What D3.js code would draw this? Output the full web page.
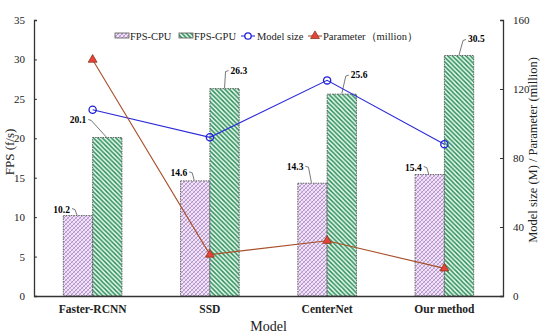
<!DOCTYPE html>
<html>
<head>
<meta charset="utf-8">
<script src="https://cdn.jsdelivr.net/npm/d3@7"></script>
<style>
  body { margin: 0; background: #fff; }
  svg, svg text { font-family: "Liberation Serif", "Times New Roman", serif; }
</style>
</head>
<body>
<div id="vis"></div>
<script>
// data
const METHODS = ['Faster-RCNN', 'SSD', 'CenterNet', 'Our method'];
const FPS_CPU = [10.2, 14.6, 14.3, 15.4];
const FPS_GPU = [20.1, 26.3, 25.6, 30.5];
const MODEL_SIZE = [108, 92, 125, 88];
const PARAMS = [137, 24, 32, 16];
const LEFT_TICKS = [0, 5, 10, 15, 20, 25, 30, 35];
const RIGHT_TICKS = [0, 40, 80, 120, 160];

const FRAME_WIDTH = 550;
const FRAME_HEIGHT = 336;
const MARGINS = {left: 34, right: 47, top: 20, bottom: 40};
const VIS_WIDTH = FRAME_WIDTH - MARGINS.left - MARGINS.right;
const VIS_HEIGHT = FRAME_HEIGHT - MARGINS.top - MARGINS.bottom;

const svg = d3.select('#vis').append('svg')
    .attr('width', FRAME_WIDTH)
    .attr('height', FRAME_HEIGHT);

// hatch patterns
const defs = svg.append('defs');
const pCpu = defs.append('pattern').attr('id', 'cpu')
    .attr('patternUnits', 'userSpaceOnUse').attr('width', 4).attr('height', 4);
pCpu.append('rect').attr('width', 4).attr('height', 4).attr('fill', '#f1e6f7');
pCpu.append('path').attr('d', 'M0,4L4,0M-1,1L1,-1M3,5L5,3')
    .attr('stroke', '#a57cc2').attr('stroke-width', 0.8);
pCpu.append('path').attr('d', 'M0,0L4,4M-1,3L1,5M3,-1L5,1')
    .attr('stroke', '#c4a3d8').attr('stroke-width', 0.7);

const pGpu = defs.append('pattern').attr('id', 'gpu')
    .attr('patternUnits', 'userSpaceOnUse').attr('width', 4.5).attr('height', 4.5);
pGpu.append('rect').attr('width', 4.5).attr('height', 4.5).attr('fill', '#e9fbf2');
pGpu.append('path').attr('d', 'M0,0L4.5,4.5M-1,3.5L1,5.5M3.5,-1L5.5,1')
    .attr('stroke', '#2f8f5a').attr('stroke-width', 1.5);

const g = svg.append('g').attr('transform', 'translate(' + MARGINS.left + ',' + MARGINS.top + ')');

// scales
const X_SCALE = d3.scaleBand().domain(METHODS).range([0, VIS_WIDTH]);
const Y_LEFT = d3.scaleLinear().domain([0, 35]).range([VIS_HEIGHT, 0]);
const Y_RIGHT = d3.scaleLinear().domain([0, 160]).range([VIS_HEIGHT, 0]);
const BAR_W = X_SCALE.bandwidth() * 0.25;
const center = (m) => X_SCALE(m) + X_SCALE.bandwidth() / 2;

// bars
const bars = [
  {key: 'cpu', vals: FPS_CPU, off: -BAR_W},
  {key: 'gpu', vals: FPS_GPU, off: 0}
];
bars.forEach((b) => {
  g.selectAll('.bar-' + b.key)
    .data(METHODS)
    .enter()
    .append('rect')
    .attr('x', (d) => center(d) + b.off)
    .attr('y', (d, i) => Y_LEFT(b.vals[i]))
    .attr('width', BAR_W)
    .attr('height', (d, i) => VIS_HEIGHT - Y_LEFT(b.vals[i]))
    .attr('fill', 'url(#' + b.key + ')')
    .attr('stroke', '#555')
    .attr('stroke-width', 0.9)
    .attr('stroke-dasharray', '1.5,1');
});

// data labels with leader lines (dx, dy of label from bar top centre)
const LABEL_OFF = {
  cpu: [[-9, -6], [-9, -8], [-10, -16], [-9, -7]],
  gpu: [[-22, -17], [5, -18], [8, -19], [8, -16]]
};
bars.forEach((b) => {
  METHODS.forEach((m, i) => {
    const bx = center(m) + b.off + BAR_W / 2;
    const by = Y_LEFT(b.vals[i]);
    const [dx, dy] = LABEL_OFF[b.key][i];
    const lx = bx + dx, ly = by + dy;
    const left = dx < 0;
    const path = left
      ? 'M' + (lx + 3) + ',' + (ly - 1) + 'L' + (lx + 6) + ',' + ly + 'L' + (bx - 1) + ',' + (by - 0.5)
      : 'M' + bx + ',' + (by - 0.5) + 'L' + (lx - 4) + ',' + (ly + 1) + 'L' + (lx - 1) + ',' + ly;
    g.append('path').attr('d', path).attr('fill', 'none')
      .attr('stroke', '#555').attr('stroke-width', 0.8);
    g.append('text')
      .attr('x', left ? lx + 1 : lx + 1)
      .attr('y', ly + 3)
      .attr('text-anchor', left ? 'end' : 'start')
      .attr('font-size', '9.5px')
      .attr('font-weight', 'bold')
      .text(b.vals[i].toFixed(1));
  });
});

// lines
const lineGen = (vals) => d3.line()
  .x((d) => center(d))
  .y((d, i) => Y_RIGHT(vals[i]))(METHODS);

g.append('path').attr('d', lineGen(MODEL_SIZE))
  .attr('fill', 'none').attr('stroke', '#2b2bd9').attr('stroke-width', 1.1);
g.append('path').attr('d', lineGen(PARAMS))
  .attr('fill', 'none').attr('stroke', '#a8502a').attr('stroke-width', 1.1);

g.selectAll('.pt-size').data(METHODS).enter().append('circle')
  .attr('cx', (d) => center(d))
  .attr('cy', (d, i) => Y_RIGHT(MODEL_SIZE[i]))
  .attr('r', 3.6)
  .attr('fill', 'none')
  .attr('stroke', '#2020d8')
  .attr('stroke-width', 1.3);

const tri = d3.symbol().type(d3.symbolTriangle).size(34);
g.selectAll('.pt-par').data(METHODS).enter().append('path')
  .attr('d', tri)
  .attr('transform', (d, i) => 'translate(' + center(d) + ',' + Y_RIGHT(PARAMS[i]) + ')')
  .attr('fill', '#e8433a')
  .attr('stroke', '#8a3a1a')
  .attr('stroke-width', 0.8);

// axes
const leftAxis = g.append('g')
  .call(d3.axisLeft(Y_LEFT).tickValues(LEFT_TICKS).tickSize(-3).tickPadding(9));
const rightAxis = g.append('g').attr('transform', 'translate(' + VIS_WIDTH + ',0)')
  .call(d3.axisRight(Y_RIGHT).tickValues(RIGHT_TICKS).tickSize(-3).tickPadding(10));
const bottomAxis = g.append('g').attr('transform', 'translate(0,' + VIS_HEIGHT + ')')
  .call(d3.axisBottom(X_SCALE).tickSize(0).tickPadding(9));

[leftAxis, rightAxis, bottomAxis].forEach((a) => {
  a.attr('font-family', '"Liberation Serif", serif');
  a.select('.domain').attr('stroke', '#333').attr('stroke-width', 1.3);
  a.selectAll('.tick line').attr('stroke', '#333');
  a.selectAll('text').attr('font-family', '"Liberation Serif", serif').attr('fill', '#222');
});
leftAxis.selectAll('text').attr('font-size', '11px');
rightAxis.selectAll('text').attr('font-size', '11px');
bottomAxis.selectAll('text').attr('font-size', '11.5px').attr('font-weight', 'bold');

// axis titles
svg.append('text')
  .attr('transform', 'translate(14,152) rotate(-90)')
  .attr('text-anchor', 'middle').attr('font-size', '13px').attr('fill', '#222')
  .text('FPS (f/s)');
svg.append('text')
  .attr('transform', 'translate(537,150) rotate(-90)')
  .attr('text-anchor', 'middle').attr('font-size', '12.5px').attr('fill', '#222')
  .text('Model size (M) / Parameter (million)');
svg.append('text')
  .attr('x', MARGINS.left + VIS_WIDTH / 2).attr('y', 331)
  .attr('text-anchor', 'middle').attr('font-size', '14px').attr('fill', '#222')
  .text('Model');

// legend
const legend = svg.append('g').attr('font-size', '10.5px').attr('fill', '#222');
const LEG_Y = 36;
legend.append('rect').attr('x', 115).attr('y', LEG_Y - 3).attr('width', 14).attr('height', 5)
  .attr('fill', 'url(#cpu)').attr('stroke', '#555').attr('stroke-width', 0.8);
legend.append('text').attr('x', 130).attr('y', LEG_Y + 3.5).text('FPS-CPU');
legend.append('rect').attr('x', 179).attr('y', LEG_Y - 3).attr('width', 14).attr('height', 5)
  .attr('fill', 'url(#gpu)').attr('stroke', '#555').attr('stroke-width', 0.8);
legend.append('text').attr('x', 194).attr('y', LEG_Y + 3.5).text('FPS-GPU');
legend.append('line').attr('x1', 241).attr('x2', 255).attr('y1', LEG_Y).attr('y2', LEG_Y)
  .attr('stroke', '#2b2bd9').attr('stroke-width', 1.1);
legend.append('circle').attr('cx', 248).attr('cy', LEG_Y).attr('r', 3.2)
  .attr('fill', '#fff').attr('stroke', '#2020d8').attr('stroke-width', 1.3);
legend.append('text').attr('x', 257).attr('y', LEG_Y + 3.5).text('Model size');
legend.append('line').attr('x1', 308).attr('x2', 322).attr('y1', LEG_Y).attr('y2', LEG_Y)
  .attr('stroke', '#a8502a').attr('stroke-width', 1.1);
legend.append('path').attr('d', tri)
  .attr('transform', 'translate(315,' + LEG_Y + ')')
  .attr('fill', '#e8433a').attr('stroke', '#8a3a1a').attr('stroke-width', 0.8);
legend.append('text').attr('x', 323).attr('y', LEG_Y + 3.5).text('Parameter（million）');
</script>
</body>
</html>
